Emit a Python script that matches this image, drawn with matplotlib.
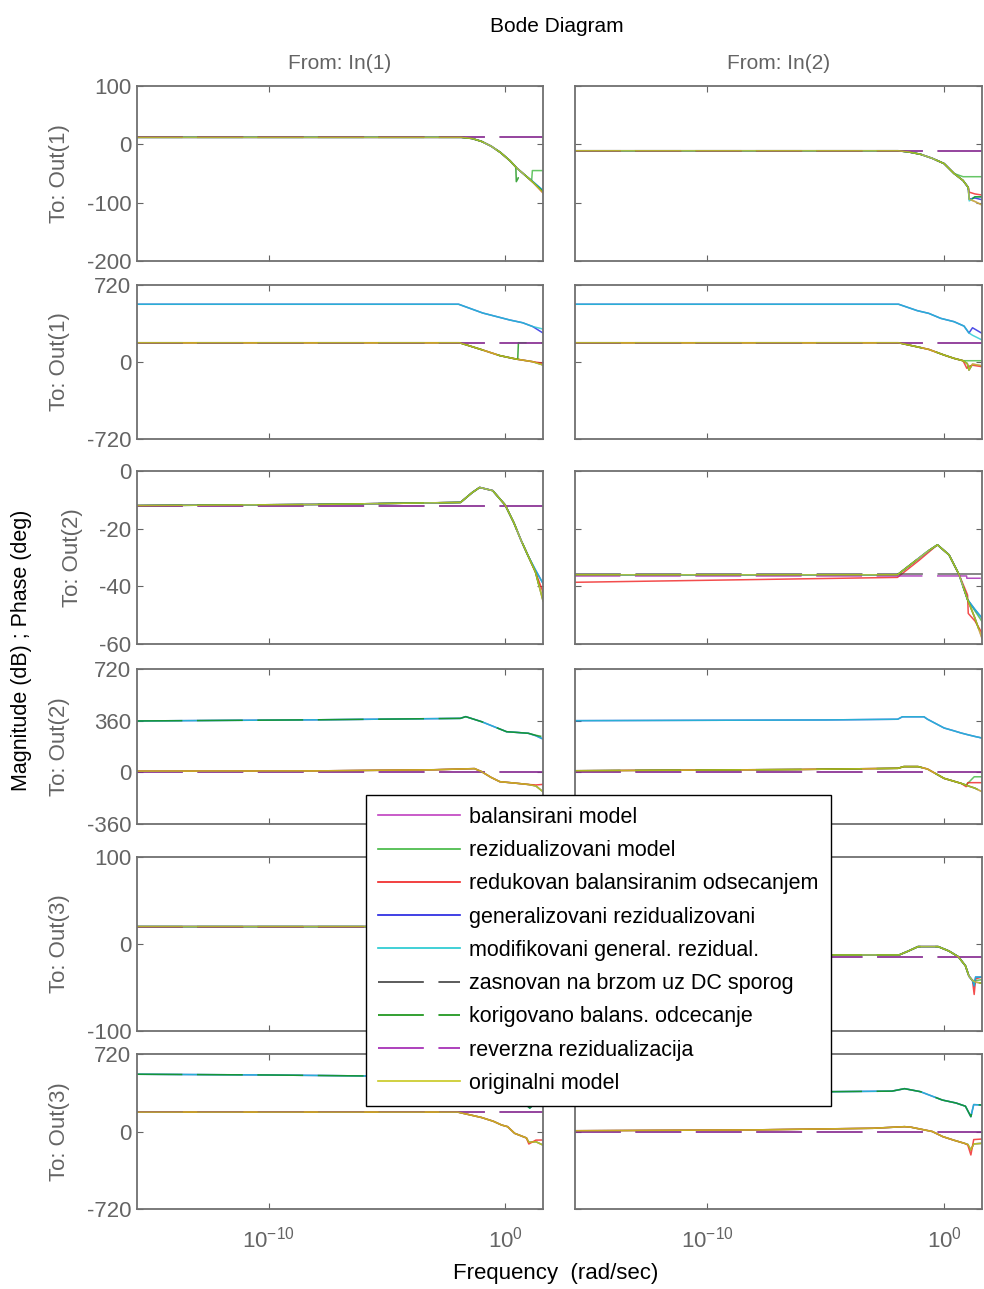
import numpy as np
import matplotlib.pyplot as plt
from matplotlib.lines import Line2D
from matplotlib.ticker import NullLocator

plt.rcParams['font.family'] = ['Liberation Sans', 'DejaVu Sans']
plt.rcParams['mathtext.fontset'] = 'custom'
plt.rcParams['mathtext.rm'] = 'Liberation Sans'
plt.rcParams['mathtext.default'] = 'regular'
plt.rcParams['axes.unicode_minus'] = False
plt.rcParams['lines.scale_dashes'] = False

# reduced models, in plotting (and legend) order
model_keys = ['bal', 'res', 'bt', 'gres', 'mres', 'fast', 'corr', 'rev', 'orig']
model_labels = ['balansirani model', 'rezidualizovani model',
                'redukovan balansiranim odsecanjem', 'generalizovani rezidualizovani',
                'modifikovani general. rezidual.', 'zasnovan na brzom uz DC sporog',
                'korigovano balans. odcecanje', 'reverzna rezidualizacija',
                'originalni model']
model_colors = ['#c040c0', '#40b840', '#f02020', '#2020e0', '#20c8d0',
                '#404040', '#10900f', '#a020b0', '#c8c820']
model_dashed = [False, False, False, False, False, True, True, True, False]

row_labels = ['To: Out(1)', 'To: Out(1)', 'To: Out(2)', 'To: Out(2)', 'To: Out(3)', 'To: Out(3)']
col_labels = ['From: In(1)', 'From: In(2)']
row_ylims = [(-200, 100), (-720, 720), (-60, 0), (-360, 720), (-100, 100), (-720, 720)]
row_yticks = [[-200, -100, 0, 100], [-720, 0, 720], [-60, -40, -20, 0],
              [-360, 0, 360, 720], [-100, 0, 100], [-720, 0, 720]]
xlim_exp = (-15.58, 1.6)
xtick_vals = [1e-10, 1e0]
xtick_labels = [r'$10^{-10}$', r'$10^{0}$']

# curves: (log10 frequency [rad/sec], value)
# Out(1) <- In(1), magnitude [dB]
A_orig = ([-15.6, -1.85, -1.4, -1.0, -0.6, -0.2, 0.2, 0.5, 0.9, 1.2, 1.6],
          [12, 12, 10, 5, -3, -14, -28, -41, -55, -66, -83])
A_blue = ([-15.6, -1.85, -1.4, -1.0, -0.6, -0.2, 0.2, 0.5, 0.9, 1.2, 1.6],
          [12, 12, 10, 5, -3, -14, -28, -41, -55, -65, -79])
A_res = ([-15.6, -1.85, -1.4, -1.0, -0.6, -0.2, 0.2, 0.5, 0.9, 1.12, 1.15, 1.6],
         [12, 12, 10, 5, -3, -14, -28, -41, -55, -62, -45, -45])
A_corr = ([-15.6, -1.85, -1.4, -1.0, -0.6, -0.2, 0.2, 0.45, 0.47, 0.55, 0.58, 0.9, 1.2, 1.6],
          [12, 12, 10, 5, -3, -14, -28, -39, -64, -58, -44, -55, -66, -81])
A_dc = ([-15.6, 1.6], [12, 12])

# Out(1) <- In(2), magnitude [dB]
B_orig = ([-15.6, -1.95, -1.5, -1.0, -0.5, 0.0, 0.42, 0.8, 1.02, 1.06, 1.3, 1.6],
          [-11, -11, -13, -17, -24, -33, -50, -62, -74, -94, -98, -104])
B_res = ([-15.6, -1.95, -1.5, -1.0, -0.5, 0.0, 0.42, 0.8, 1.6],
         [-11, -11, -13, -17, -24, -33, -50, -55.5, -55.5])
B_bt = ([-15.6, -1.95, -1.5, -1.0, -0.5, 0.0, 0.42, 0.8, 1.02, 1.06, 1.3, 1.6],
        [-11, -11, -13, -17, -24, -33, -50, -62, -74, -82, -85, -87])
B_blue = ([-15.6, -1.95, -1.5, -1.0, -0.5, 0.0, 0.42, 0.8, 1.02, 1.06, 1.3, 1.6],
          [-11, -11, -13, -17, -24, -33, -50, -62, -74, -94, -92, -95])
B_cyan = ([-15.6, -1.95, -1.5, -1.0, -0.5, 0.0, 0.42, 0.8, 1.02, 1.06, 1.3, 1.6],
          [-11, -11, -13, -17, -24, -33, -50, -62, -74, -97, -90, -90])
B_dc = ([-15.6, 1.6], [-11, -11])

# Out(1) <- In(1), phase [deg]
C_orig = ([-15.6, -1.93, -0.95, -0.23, 0.32, 0.53, 1.16, 1.6],
          [180, 180, 112, 60, 34, 25, 3, -28])
C_bt = ([-15.6, -1.93, -0.95, -0.23, 0.32, 0.53, 1.16, 1.6],
        [180, 180, 112, 60, 34, 25, 3, -12])
C_corr = ([-15.6, -1.93, -0.95, -0.23, 0.32, 0.53, 0.56, 1.6],
          [180, 180, 112, 60, 34, 25, 180, 180])
C_blue = ([-15.6, -1.97, -0.95, 0.19, 0.74, 1.16, 1.6],
          [540, 540, 458, 393, 367, 332, 271])
C_cyan = ([-15.6, -1.97, -0.95, 0.19, 0.74, 1.16, 1.6],
          [540, 540, 458, 393, 367, 332, 308])
C_dc = ([-15.6, 1.6], [180, 180])

# Out(1) <- In(2), phase [deg]
D_orig = ([-15.6, -1.92, -0.65, 0.0, 0.42, 0.8, 0.98, 1.05, 1.2, 1.6],
          [180, 180, 118, 65, 34, 12, -15, -75, -19, -35])
D_bt = ([-15.6, -1.92, -0.65, 0.0, 0.42, 0.8, 0.96, 1.05, 1.2, 1.6],
        [180, 180, 118, 65, 34, 12, -59, -40, -30, -44])
D_res = ([-15.6, -1.92, -0.65, 0.0, 0.42, 0.8, 1.6],
         [180, 180, 118, 65, 34, 12, 12])
D_blue = ([-15.6, -1.92, -1.13, -0.65, -0.14, 0.42, 0.84, 1.05, 1.2, 1.6],
          [540, 540, 480, 455, 408, 377, 336, 271, 320, 268])
D_cyan = ([-15.6, -1.92, -1.13, -0.65, -0.14, 0.42, 0.84, 1.05, 1.2, 1.6],
          [540, 540, 480, 455, 408, 377, 336, 271, 250, 206])
D_dc = ([-15.6, 1.6], [180, 180])

# Out(2) <- In(1), magnitude [dB]
E_orig = ([-15.6, -8, -1.89, -1.4, -1.08, -0.53, 0.0, 0.37, 0.67, 0.98, 1.28, 1.6],
          [-12, -11.6, -10.9, -7.5, -5.7, -6.8, -11.8, -18, -24, -29.6, -35, -45])
E_bt = ([-15.6, -8, -1.89, -1.4, -1.08, -0.53, 0.0, 0.37, 0.67, 0.98, 1.28, 1.6],
        [-12, -11.6, -10.9, -7.5, -5.7, -6.8, -11.8, -18, -24, -29.6, -35, -42])
E_blue = ([-15.6, -8, -1.89, -1.4, -1.08, -0.53, 0.0, 0.37, 0.67, 0.98, 1.28, 1.6],
          [-12, -11.6, -10.9, -7.5, -5.7, -6.8, -11.8, -18, -24, -29.6, -34.3, -39])
E_dc = ([-15.6, 1.6], [-12, -12])

# Out(2) <- In(2), magnitude [dB]
F_orig = ([-15.6, -1.97, -1.06, -0.7, -0.28, 0.21, 0.63, 0.99, 1.3, 1.6],
          [-36, -36, -30.2, -27.9, -25.6, -29.1, -35.9, -44.6, -51, -58])
F_bt = ([-15.6, -1.97, -1.06, -0.7, -0.28, 0.21, 0.63, 0.99, 1.02, 1.3, 1.6],
        [-38.6, -36.9, -31, -28.5, -25.6, -29.1, -35.9, -43, -49.4, -52, -56.2])
F_blue = ([-15.6, -1.97, -1.06, -0.7, -0.28, 0.21, 0.63, 0.99, 1.3, 1.6],
          [-36, -36, -30.2, -27.9, -25.6, -29.1, -35.9, -44.6, -48, -51])
F_res = ([-15.6, -1.97, -1.06, -0.7, -0.28, 0.21, 0.63, 0.99, 1.3, 1.6],
         [-36, -36, -30.2, -27.9, -25.6, -29.1, -35.9, -44.6, -48.5, -52.2])
F_fast = ([-15.6, 1.6], [-35.8, -35.8])
F_rev = ([-15.6, 0.95, 0.96, 1.6], [-36.4, -36.4, -37.2, -37.2])

# Out(2) <- In(1), phase [deg]
G_top = ([-15.6, -8, -1.9, -1.67, -1.0, -0.5, 0.06, 0.5, 0.98, 1.3, 1.6],
         [358, 366, 376, 388, 353, 320, 283, 278, 272, 255, 232])
G_corr = ([-15.6, -8, -1.9, -1.67, -1.0, -0.5, 0.06, 0.5, 0.98, 1.3, 1.6],
          [358, 366, 376, 388, 353, 320, 283, 278, 272, 258, 248])
G_orig = ([-15.6, -8, -3, -1.3, -1.0, -0.6, -0.23, 0.53, 1.0, 1.3, 1.6],
          [8, 10, 18, 26, 5, -35, -65, -77, -85, -95, -135])
G_bt = ([-15.6, -8, -3, -1.3, -1.0, -0.6, -0.23, 0.53, 1.0, 1.3, 1.6],
        [8, 10, 18, 26, 5, -35, -65, -77, -85, -88, -84])
G_dc = ([-15.6, 1.6], [0, 0])

# Out(2) <- In(2), phase [deg]
H_top = ([-15.6, -5, -1.96, -1.76, -0.85, -0.7, 0.0, 0.4, 0.72, 1.0, 1.3, 1.6],
         [360, 365, 370, 387, 387, 370, 309, 290, 274, 262, 250, 239])
H_orig = ([-15.6, -6, -1.95, -1.7, -1.1, -0.7, 0.0, 0.72, 0.93, 1.3, 1.6],
          [11, 20, 28, 40, 40, 23, -42, -77, -90, -110, -135])
H_bt = ([-15.6, -6, -1.95, -1.7, -1.1, -0.7, 0.0, 0.72, 0.93, 1.0, 1.6],
        [11, 20, 28, 40, 40, 23, -42, -77, -100, -72, -72])
H_res = ([-15.6, -6, -1.95, -1.7, -1.1, -0.7, 0.0, 0.72, 0.93, 1.27, 1.6],
         [11, 20, 28, 40, 40, 23, -42, -77, -88, -31, -31])
H_dc = ([-15.6, 1.6], [0, 0])

# Out(3) <- In(1), magnitude [dB]
I_orig = ([-15.6, -1.9, -1.0, -0.3, 0.3, 0.9, 1.6],
          [20, 20, 14, 2, -15, -35, -55])
I_dc = ([-15.6, 1.6], [20, 20])

# Out(3) <- In(2), magnitude [dB]
J_orig = ([-15.6, -1.9, -1.5, -1.1, -0.25, 0.2, 0.6, 0.9, 1.05, 1.2, 1.35, 1.6],
          [-12.6, -12.6, -8, -3, -3, -8, -14.6, -25, -37, -42, -44, -45])
J_res = ([-15.6, -1.9, -1.5, -1.1, -0.25, 0.2, 0.6, 0.9, 1.05, 1.2, 1.35, 1.6],
         [-12.6, -12.6, -8, -3, -3, -8, -14.6, -25, -37, -42, -42, -41])
J_bt = ([-15.6, -1.9, -1.5, -1.1, -0.25, 0.2, 0.6, 0.9, 1.05, 1.2, 1.27, 1.33, 1.6],
        [-12.6, -12.6, -8, -3, -3, -8, -14.6, -25, -37, -42, -58, -40, -38])
J_blue = ([-15.6, -1.9, -1.5, -1.1, -0.25, 0.2, 0.6, 0.9, 1.05, 1.2, 1.27, 1.33, 1.6],
          [-12.6, -12.6, -8, -3, -3, -8, -14.6, -25, -37, -42, -48, -38, -38])
J_dc = ([-15.6, 1.6], [-14.6, -14.6])

# Out(3) <- In(1), phase [deg]
K_top = ([-15.6, -10, -5.86, -2, -1, 0, 0.6, 0.8, 1.04, 1.2, 1.6],
         [532, 525, 516, 500, 470, 400, 320, 265, 218, 250, 232])
K_orig = ([-15.6, -2.0, -1.5, -1.0, -0.5, -0.15, 0.1, 0.4, 0.9, 1.0, 1.3, 1.6],
          [180, 180, 155, 130, 95, 60, 45, -17, -60, -100, -95, -126])
K_bt = ([-15.6, -2.0, -1.5, -1.0, -0.5, -0.15, 0.1, 0.4, 0.9, 1.0, 1.3, 1.6],
        [180, 180, 155, 130, 95, 60, 45, -17, -60, -116, -80, -79])
K_dc = ([-15.6, 1.6], [180, 180])

# Out(3) <- In(2), phase [deg]
L_top = ([-15.6, -4.75, -2.2, -1.67, -1.0, -0.07, 0.5, 0.9, 1.13, 1.25, 1.6],
         [372, 370, 375, 398, 370, 292, 265, 235, 138, 250, 246])
L_orig = ([-15.6, -8, -3, -1.67, -1.4, -0.5, -0.05, 0.4, 0.86, 1.0, 1.13, 1.25, 1.6],
          [7, 15, 30, 45, 40, 0, -48, -80, -110, -120, -172, -115, -110])
L_bt = ([-15.6, -8, -3, -1.67, -1.4, -0.5, -0.05, 0.4, 0.86, 1.0, 1.13, 1.25, 1.6],
        [7, 15, 30, 45, 40, 0, -48, -80, -110, -125, -218, -75, -70])
L_dc = ([-15.6, 1.6], [0, 0])

# which curve each model follows in each subplot (missing -> original)
panel_curves = [
    [dict(orig=A_orig, res=A_res, gres=A_blue, mres=A_blue, corr=A_corr, fast=A_dc, rev=A_dc),
     dict(orig=B_orig, res=B_res, bt=B_bt, gres=B_blue, mres=B_cyan, corr=B_cyan, fast=B_dc, rev=B_dc)],
    [dict(orig=C_orig, bt=C_bt, gres=C_blue, mres=C_cyan, corr=C_corr, fast=C_dc, rev=C_dc),
     dict(orig=D_orig, res=D_res, bt=D_bt, gres=D_blue, mres=D_cyan, fast=D_dc, rev=D_dc)],
    [dict(orig=E_orig, bt=E_bt, gres=E_blue, mres=E_blue, fast=E_dc, rev=E_dc),
     dict(orig=F_orig, res=F_res, bt=F_bt, gres=F_blue, mres=F_blue, fast=F_fast, rev=F_rev)],
    [dict(orig=G_orig, bt=G_bt, gres=G_top, mres=G_top, corr=G_corr, fast=G_dc, rev=G_dc),
     dict(orig=H_orig, res=H_res, bt=H_bt, gres=H_top, mres=H_top, fast=H_dc, rev=H_dc)],
    [dict(orig=I_orig, fast=I_dc, rev=I_dc),
     dict(orig=J_orig, res=J_res, bt=J_bt, gres=J_blue, mres=J_blue, fast=J_dc, rev=J_dc)],
    [dict(orig=K_orig, bt=K_bt, gres=K_top, mres=K_top, corr=K_top, fast=K_dc, rev=K_dc),
     dict(orig=L_orig, bt=L_bt, gres=L_top, mres=L_top, corr=L_top, fast=L_dc, rev=L_dc)],
]

W, H = 984, 1289
GRAY = '#646464'
FS = 15
DASH = (0, (33, 10.5))

fig = plt.figure(figsize=(W / 100, H / 100), dpi=100)

# subplot frames in pixels
col_x = [(137, 543), (575, 982)]
row_y = [(86, 261), (285, 439), (471, 644), (669, 824), (857, 1031), (1054, 1209)]

for r in range(6):
    for c in range(2):
        x0, x1 = col_x[c]
        y0, y1 = row_y[r]
        ax = fig.add_axes([x0 / W, 1 - y1 / H, (x1 - x0) / W, (y1 - y0) / H])
        curves = panel_curves[r][c]
        for key, color, dashed in zip(model_keys, model_colors, model_dashed):
            w, v = curves.get(key, curves['orig'])
            ax.plot(10.0 ** np.asarray(w), v, color=color, lw=1.1, alpha=0.8,
                    ls=DASH if dashed else '-')
        ax.set_xscale('log')
        ax.set_xlim(10.0 ** xlim_exp[0], 10.0 ** xlim_exp[1])
        ax.set_ylim(*row_ylims[r])
        ax.set_yticks(row_yticks[r])
        ax.set_xticks(xtick_vals)
        ax.xaxis.set_minor_locator(NullLocator())
        if r == 5:
            ax.set_xticklabels(xtick_labels)
        ax.tick_params(direction='in', top=True, right=True, length=4, width=0.8,
                       color=GRAY, labelcolor=GRAY, labelsize=16,
                       labelbottom=(r == 5), labelleft=(c == 0))
        ax.tick_params(axis='x', pad=13)
        ax.tick_params(axis='y', pad=4)
        for s in ax.spines.values():
            s.set_color('#707070')
            s.set_linewidth(1.3)
        if c == 0:
            ax.set_ylabel(row_labels[r], color=GRAY, fontsize=16, labelpad=12)
        if r == 0:
            ax.set_title(col_labels[c], color=GRAY, fontsize=FS, pad=12)

fig.text(557 / W, 1 - 27 / H, 'Bode Diagram', ha='center', va='center', fontsize=FS)
fig.text(556 / W, 1 - 1273 / H, 'Frequency  (rad/sec)', ha='center', va='center', fontsize=16)
fig.text(22 / W, 1 - 650 / H, 'Magnitude (dB) ; Phase (deg)', rotation=90,
         ha='center', va='center', fontsize=15.5)

handles = [Line2D([], [], color=col, lw=1.2, ls=DASH if d else '-')
           for col, d in zip(model_colors, model_dashed)]
leg = fig.legend(handles, model_labels, loc='upper left',
                 bbox_to_anchor=(366 / W, 1 - 795 / H), borderaxespad=0,
                 fontsize=15.5, handlelength=3.8, handletextpad=0.45,
                 labelspacing=0.57, borderpad=0.55, fancybox=False,
                 framealpha=1, edgecolor='black')
leg.get_frame().set_linewidth(1.0)

fig.savefig('out.png', dpi=100)
